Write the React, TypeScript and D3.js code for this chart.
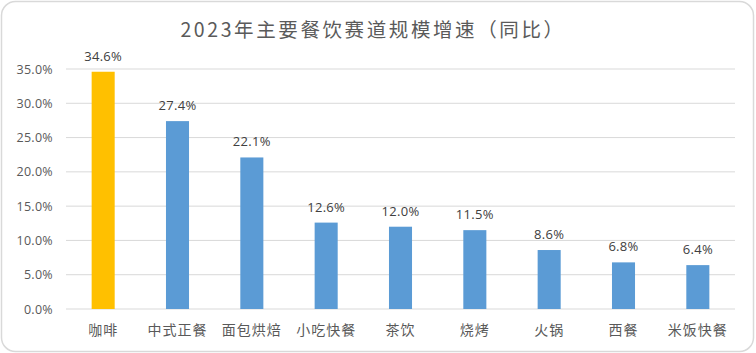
import React from "react";
import * as d3 from "d3";

const categories = ["咖啡", "中式正餐", "面包烘焙", "小吃快餐", "茶饮", "烧烤", "火锅", "西餐", "米饭快餐"];
const values = [34.6, 27.4, 22.1, 12.6, 12.0, 11.5, 8.6, 6.8, 6.4];
const yTicks = [0, 5, 10, 15, 20, 25, 30, 35];
const title = "2023年主要餐饮赛道规模增速（同比）";

const W = 756;
const H = 353;
const FONT = "'Noto Sans CJK SC', 'Noto Sans', sans-serif";
const NUM_FONT = "'Open Sans', 'Noto Sans CJK SC', sans-serif";

export default function App() {
  const x = d3.scaleBand<string>().domain(categories).range([66, 735]).paddingInner(0.69).paddingOuter(0.345);
  const y = d3.scaleLinear().domain([0, 35]).range([309, 69]);
  return (
    <svg width={W} height={H} style={{ position: "absolute", left: 0, top: 0 }}>
      <rect x={1.5} y={1.5} width={W - 4} height={H - 3} rx={14} ry={14} fill="#fff" stroke="#d9d9d9" strokeWidth={1.5} />
      <text x={373} y={37} textAnchor="middle" fontFamily={FONT} fontSize={19.5} letterSpacing={2.6} fill="#5a5a5a">
        {title}
      </text>
      {yTicks.map((t) => (
        <g key={t}>
          <line x1={66} x2={735} y1={y(t)} y2={y(t)} stroke="#d9d9d9" strokeWidth={1} />
          <text x={53} y={y(t) + 4.5} textAnchor="end" fontFamily={NUM_FONT} fontSize={12.5} letterSpacing={0.3} fill="#595959">
            {t.toFixed(1) + "%"}
          </text>
        </g>
      ))}
      {categories.map((c, i) => (
        <g key={c}>
          <rect
            x={x(c)}
            y={y(values[i])}
            width={x.bandwidth()}
            height={y(0) - y(values[i])}
            fill={i === 0 ? "#FFC000" : "#5B9BD5"}
          />
          <text
            x={(x(c) as number) + x.bandwidth() / 2}
            y={y(values[i]) - 11}
            textAnchor="middle"
            fontFamily={NUM_FONT}
            fontSize={13}
            letterSpacing={0.3}
            fill="#404040"
          >
            {values[i].toFixed(1) + "%"}
          </text>
          <text
            x={(x(c) as number) + x.bandwidth() / 2}
            y={335}
            textAnchor="middle"
            fontFamily={FONT}
            fontSize={14}
            letterSpacing={1}
            fill="#595959"
          >
            {c}
          </text>
        </g>
      ))}
    </svg>
  );
}
